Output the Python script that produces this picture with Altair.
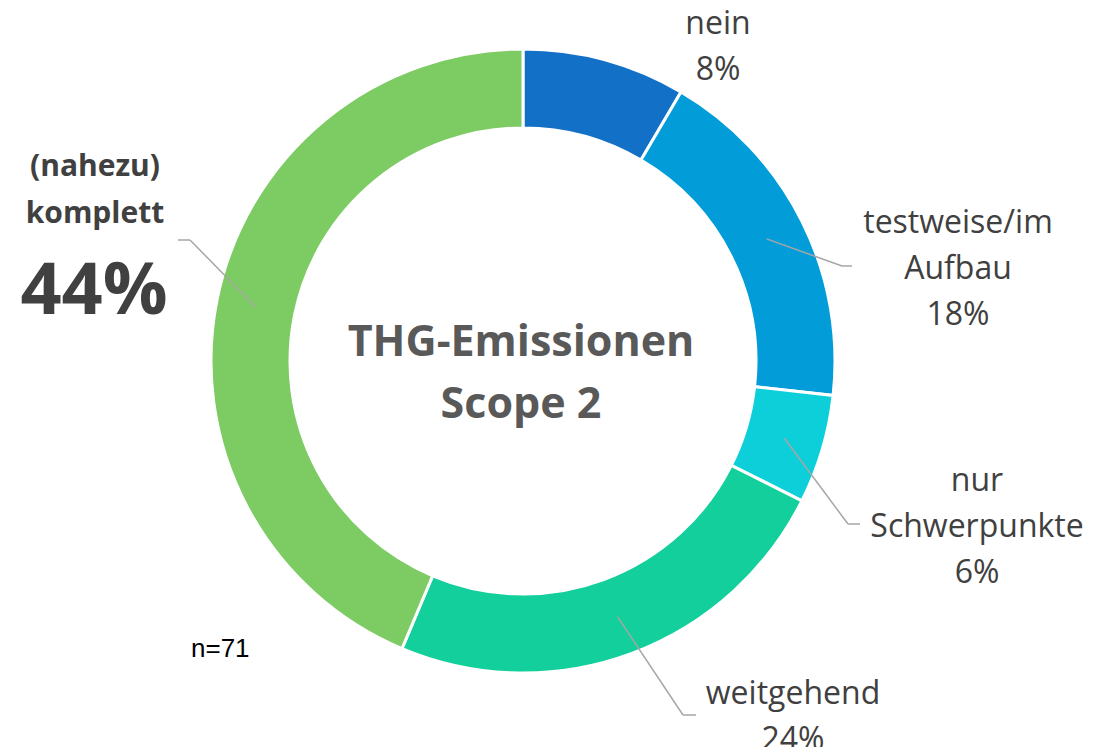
import altair as alt
import numpy as np
import pandas as pd

# ---- data ----
categories = ["nein", "testweise/im\nAufbau", "nur\nSchwerpunkte", "weitgehend", "(nahezu)\nkomplett"]
counts = [6, 13, 4, 17, 31]
colors = ["#1270C7", "#029DD8", "#0DCFDA", "#13CF9B", "#7DCB63"]
n_total = sum(counts)
title_text = "THG-Emissionen\nScope 2"
n_text = "n=71"

# ---- layout (pixels, chart coordinates) ----
CX, CY = 515, 352
R_OUT, R_IN = 312, 233
R_MID = (R_OUT + R_IN) / 2
# label text anchor (x, first baseline) per category
label_pos = [(710, 25), (950, 224), (969, 482), (785, 695), (87, 167)]
# leader line elbow and end per category (None = no leader)
leader = [None, ((834, 257), (844, 257)), ((840, 515), (852, 515)),
          ((675, 706), (688, 706)), ((182, 231), (170, 231))]

df = pd.DataFrame({"cat": categories, "count": counts, "order": range(len(counts))})
df["pct"] = (df["count"] / n_total * 100).round().astype(int).astype(str) + "%"

# mid angles from data
cum = np.cumsum(counts)
start = np.concatenate([[0], cum[:-1]])
mid = (start + cum) / 2 / n_total * 2 * np.pi
ax = CX + R_MID * np.sin(mid)
ay = CY - R_MID * np.cos(mid)

seg_rows = []
for i, ld in enumerate(leader):
    if ld is None:
        continue
    (ex, ey), (tx, ty) = ld
    seg_rows.append({"x": ax[i], "y": ay[i], "x2": ex, "y2": ey})
    seg_rows.append({"x": ex, "y": ey, "x2": tx, "y2": ty})
segs = pd.DataFrame(seg_rows)

lab_rows = []
for i, c in enumerate(categories):
    x, y = label_pos[i]
    if i == len(categories) - 1:
        lab_rows.append({"x": x, "y": y, "t": c.split("\n"), "kind": "bold"})
    else:
        lab_rows.append({"x": x, "y": y, "t": c.split("\n") + [df["pct"][i]], "kind": "reg"})
labs = pd.DataFrame(lab_rows)

FONT = "Open Sans"

ring = alt.Chart(df).mark_arc(
    radius=R_OUT, radius2=R_IN, stroke="white", strokeWidth=3
).encode(
    theta=alt.Theta("count:Q", stack=True),
    order=alt.Order("order:Q"),
    color=alt.Color("cat:N", scale=alt.Scale(domain=categories, range=colors), legend=None),
    x=alt.value(CX),
    y=alt.value(CY),
)

lines = alt.Chart(segs).mark_rule(color="#A6A6A6", strokeWidth=1.5).encode(
    x=alt.X("x:Q", scale=None), y=alt.Y("y:Q", scale=None),
    x2="x2:Q", y2="y2:Q",
)

reg_labels = alt.Chart(labs[labs.kind == "reg"]).mark_text(
    font=FONT, fontSize=32, color="#404040", align="center", baseline="alphabetic",
    lineHeight=46,
).encode(x=alt.X("x:Q", scale=None), y=alt.Y("y:Q", scale=None), text="t")

bold_labels = alt.Chart(labs[labs.kind == "bold"]).mark_text(
    font=FONT, fontSize=30, fontWeight="bold", color="#404040", align="center",
    baseline="alphabetic", lineHeight=47,
).encode(x=alt.X("x:Q", scale=None), y=alt.Y("y:Q", scale=None), text="t")

big_pct = alt.Chart(df.iloc[[-1]]).mark_text(
    font=FONT, fontSize=72, fontWeight="bold", color="#404040", align="center",
    baseline="alphabetic",
).encode(x=alt.value(86), y=alt.value(305), text="pct:N")

center = alt.Chart(pd.DataFrame({"t": [title_text.split("\n")]})).mark_text(
    font=FONT, fontSize=43, fontWeight="bold", color="#595959", align="center",
    baseline="alphabetic", lineHeight=62,
).encode(x=alt.value(513), y=alt.value(347), text="t")

ntxt = alt.Chart(pd.DataFrame({"t": [n_text]})).mark_text(
    font="Liberation Sans", fontSize=26, color="#000000", align="left", baseline="alphabetic",
).encode(x=alt.value(183), y=alt.value(648), text="t:N")

chart = alt.layer(ring, lines, reg_labels, bold_labels, big_pct, center, ntxt).properties(
    width=1094, height=739, padding=0,
    autosize=alt.AutoSizeParams(type="fit", contains="padding"),
).configure_view(stroke=None)

chart.save("out.html", embed_options={"renderer": "svg", "actions": False})
